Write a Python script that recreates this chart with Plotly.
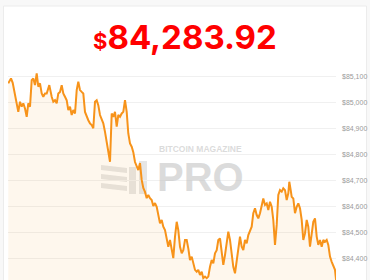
import plotly.graph_objects as go

# time index (sample position along the day) and BTC price readings
t = [8.3, 11, 12.7, 15, 16.7, 18.3, 20, 21.7, 23.3, 25, 26.7, 28.3, 30, 31.7, 33.3, 35, 36.7, 38.3, 40, 41.7,
     43.3, 45, 46.7, 49.3, 51.7, 53.3, 55, 56.7, 58.3, 60, 61.7, 63.3, 65, 66.7, 68.3, 70, 71.7, 73.3, 75, 76.7,
     78.3, 80, 81.7, 83.3, 85, 86.7, 88.3, 90, 91.7, 93.3, 95, 96.7, 98.3, 100, 101.7, 103.3, 105, 106.7, 108.3, 110,
     111.7, 113.3, 115, 116.7, 118.3, 120, 121.7, 123.3, 125, 126.7, 128.3, 130, 131.7, 133.3, 135, 136.7, 138.3, 140, 141.7, 143.3,
     145, 146.7, 148.3, 150, 151.7, 153.3, 155, 156.7, 158.3, 160, 161.7, 163.3, 165, 166.7, 168.3, 170, 171.7, 173.3, 175, 176.7,
     178.3, 180, 181.7, 183.3, 185, 186.7, 188.3, 190, 191.7, 193.3, 195, 196.7, 198.3, 200, 201.7, 203.3, 205, 206.7, 208.3, 210,
     211.7, 213.3, 215, 216.7, 218.3, 220, 221.7, 223.3, 225, 226.7, 228.3, 230, 231.7, 233.3, 235, 236.7, 238.3, 240, 241.7, 243.3,
     245, 246.7, 248.3, 250, 251.7, 253.3, 255, 256.7, 258.3, 260, 261.7, 263.3, 265, 266.7, 268.3, 270, 271.7, 273.3, 275, 276.7,
     278.3, 280, 281.7, 283.3, 285, 286.7, 288.3, 289.3, 290.7, 291.7, 293.3, 295, 296.7, 298.3, 300, 301.7, 303.3, 305, 306.7, 308.3,
     310, 311.7, 313.3, 315, 316.7, 318.3, 320, 321.7, 323.3, 325, 326.7, 328.3, 330, 331.7, 333.3, 335, 337]
price = [85075, 85094, 85077, 85030, 84998, 84965, 85004, 84985, 84998, 84978, 84946, 84998, 84985, 85087, 85094, 85068, 85113, 85062, 85075, 85036,
         85023, 85036, 85036, 85068, 85023, 85004, 85010, 84998, 85036, 85042, 85068, 85036, 85023, 85010, 84972, 84985, 84953, 84972, 84959, 85049,
         85081, 85049, 85042, 85036, 84965, 84946, 84933, 84921, 84914, 84902, 85004, 85010, 84991, 84953, 84933, 84921, 84888, 84844, 84812, 84773,
         84959, 84946, 84965, 84908, 84953, 84946, 84959, 84965, 85010, 84965, 84882, 84844, 84831, 84810, 84772, 84753, 84741, 84768, 84703, 84672,
         84657, 84633, 84645, 84633, 84626, 84603, 84614, 84600, 84562, 84536, 84549, 84523, 84510, 84472, 84446, 84472, 84433, 84402, 84485, 84542,
         84510, 84446, 84421, 84433, 84472, 84472, 84440, 84395, 84408, 84388, 84357, 84350, 84357, 84337, 84350, 84325, 84331, 84325, 84331, 84369,
         84395, 84382, 84421, 84433, 84472, 84478, 84433, 84376, 84414, 84472, 84504, 84472, 84421, 84369, 84344, 84395, 84446, 84485, 84446, 84433,
         84472, 84459, 84491, 84510, 84523, 84575, 84594, 84568, 84555, 84575, 84600, 84632, 84607, 84613, 84587, 84619, 84600, 84549, 84453, 84530,
         84645, 84664, 84658, 84671, 84664, 84626, 84652, 84696, 84664, 84638, 84632, 84575, 84600, 84613, 84594, 84549, 84472, 84498, 84549, 84523,
         84446, 84510, 84542, 84555, 84485, 84453, 84472, 84446, 84472, 84465, 84472, 84453, 84408, 84388, 84369, 84357, 84284]
tick_vals = [84400, 84500, 84600, 84700, 84800, 84900, 85000, 85100]
tick_text = ["$84,400", "$84,500", "$84,600", "$84,700", "$84,800", "$84,900", "$85,000", "$85,100"]
headline = "84,283.92"

W, H = 370, 280
ML, MR, MT, MB = 8, 34, 62, 0


def px(x):
    return (x - ML) / (W - ML - MR)


def py(y):
    return (H - MB - y) / (H - MT - MB)


fig = go.Figure()
fig.add_trace(go.Scatter(
    x=t, y=price, mode="lines",
    line=dict(color="#f7931a", width=2),
    fill="tozeroy", fillcolor="rgba(247,147,26,0.08)",
    hoverinfo="skip", showlegend=False,
))

wm = "rgba(200,200,200,0.45)"
shapes = [
    # card
    dict(type="rect", xref="paper", yref="paper", x0=px(3.5), x1=px(366.5), y0=py(300), y1=py(6),
         fillcolor="white", line=dict(color="#ececec", width=1), layer="below"),
    # watermark logo stripes
    dict(type="path", xref="paper", yref="paper", layer="below", fillcolor=wm, line=dict(width=0),
         path=f"M {px(101)},{py(165)} L {px(127)},{py(168)} L {px(127)},{py(173)} L {px(101)},{py(170)} Z"),
    dict(type="path", xref="paper", yref="paper", layer="below", fillcolor=wm, line=dict(width=0),
         path=f"M {px(101)},{py(174)} L {px(127)},{py(177)} L {px(127)},{py(182)} L {px(101)},{py(179)} Z"),
    dict(type="path", xref="paper", yref="paper", layer="below", fillcolor=wm, line=dict(width=0),
         path=f"M {px(101)},{py(183)} L {px(127)},{py(186)} L {px(127)},{py(191)} L {px(101)},{py(188)} Z"),
    dict(type="rect", xref="paper", yref="paper", layer="below", fillcolor=wm, line=dict(width=0),
         x0=px(129), x1=px(136), y0=py(194), y1=py(167)),
    dict(type="rect", xref="paper", yref="paper", layer="below", fillcolor=wm, line=dict(width=0),
         x0=px(139), x1=px(147), y0=py(194), y1=py(161)),
]

annotations = [
    dict(xref="paper", yref="paper", x=px(185), y=py(37), xanchor="center", yanchor="middle", showarrow=False,
         text=f"<span style='font-size:22px'>$</span>{headline}",
         font=dict(family="Inter, Liberation Sans, Arial", size=33, color="#ff0000", weight="bold")),
    dict(xref="paper", yref="paper", x=px(200), y=py(171), xanchor="center", yanchor="middle", showarrow=False,
         align="center",
         text="<span style='font-size:8.5px'>BITCOIN MAGAZINE</span><br> <br> <br><span style='font-size:40px'>PRO</span>",
         font=dict(family="Liberation Sans, Arial", size=10, color="rgba(195,195,195,0.6)", weight="bold")),
]

fig.update_layout(
    width=W, height=H,
    margin=dict(l=ML, r=MR, t=MT, b=MB),
    paper_bgcolor="#f8f8f8", plot_bgcolor="rgba(0,0,0,0)",
    shapes=shapes, annotations=annotations,
    xaxis=dict(range=[8, 336], visible=False, fixedrange=True),
    yaxis=dict(range=[84318, 85157], side="right", tickvals=tick_vals, ticktext=tick_text,
               showgrid=True, gridcolor="#f0f0f0", gridwidth=1, zeroline=False, showline=False,
               ticks="", ticklabelstandoff=5,
               tickfont=dict(family="Liberation Sans, Arial", size=7, color="#9a9a9a")),
    hovermode=False,
)

fig.write_html("out.html", config={"displayModeBar": False})
